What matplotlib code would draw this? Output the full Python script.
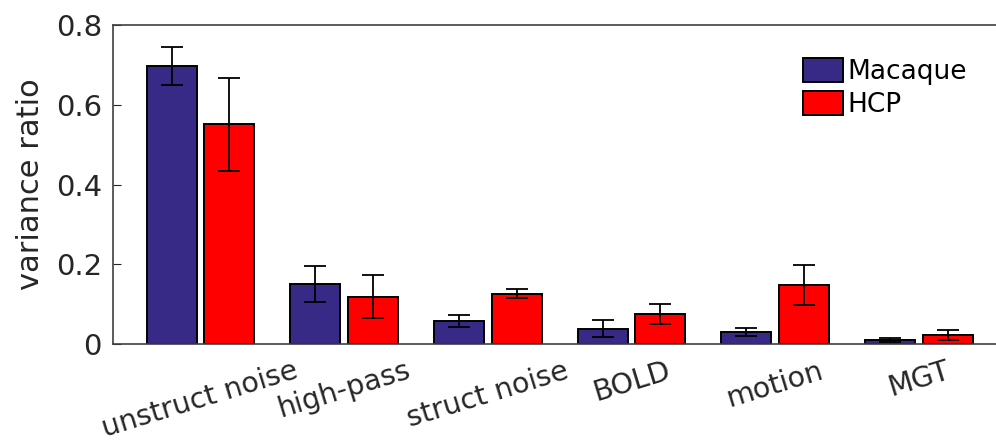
import numpy as np
import matplotlib.pyplot as plt

# categories and values
categories = ['unstruct noise', 'high-pass', 'struct noise', 'BOLD', 'motion', 'MGT']
macaque = [0.698, 0.150, 0.057, 0.038, 0.029, 0.011]
macaque_err = [0.048, 0.045, 0.015, 0.021, 0.010, 0.005]
hcp = [0.551, 0.119, 0.126, 0.075, 0.148, 0.022]
hcp_err = [0.116, 0.053, 0.011, 0.026, 0.050, 0.012]

plt.rcParams['font.family'] = ['DejaVu Sans']
fig = plt.figure(figsize=(9.96, 4.44), dpi=100)
ax = fig.add_axes([0.1135, 0.2252, 0.8865, 0.7185])

x = np.arange(1, len(categories) + 1)
w = 0.348
off = 0.2
ekw = dict(elinewidth=1.3, capthick=1.3, ecolor='black')
ax.bar(x - off, macaque, w, yerr=macaque_err, color='#372a87', edgecolor='black',
       linewidth=1.4, capsize=7.8, error_kw=ekw, label='Macaque')
ax.bar(x + off, hcp, w, yerr=hcp_err, color='#ff0000', edgecolor='black',
       linewidth=1.4, capsize=7.8, error_kw=ekw, label='HCP')

ax.set_xlim(0.392, 6.537)
ax.set_ylim(0, 0.8)
ax.set_yticks([0, 0.2, 0.4, 0.6, 0.8])
ax.set_yticklabels(['0', '0.2', '0.4', '0.6', '0.8'])
ax.set_xticks(x)
ax.set_xticklabels(categories, rotation=17, ha='center')
ax.tick_params(axis='y', direction='in', length=6, labelsize=21, colors='#262626', pad=8)
ax.tick_params(axis='x', length=0, labelsize=20.5, colors='#262626', pad=9)
ax.set_ylabel('variance ratio', fontsize=22, color='#262626', labelpad=8)

ax.spines['right'].set_visible(False)
for s in ['left', 'top', 'bottom']:
    ax.spines[s].set_color('#404040')
    ax.spines[s].set_linewidth(1.2)

ax.legend(loc='upper left', bbox_to_anchor=(0.77, 0.93), frameon=False, fontsize=19,
          handlelength=1.5, handleheight=1.0, handletextpad=0.15, labelspacing=0.25,
          borderaxespad=0)

fig.savefig('out.png', dpi=100)
